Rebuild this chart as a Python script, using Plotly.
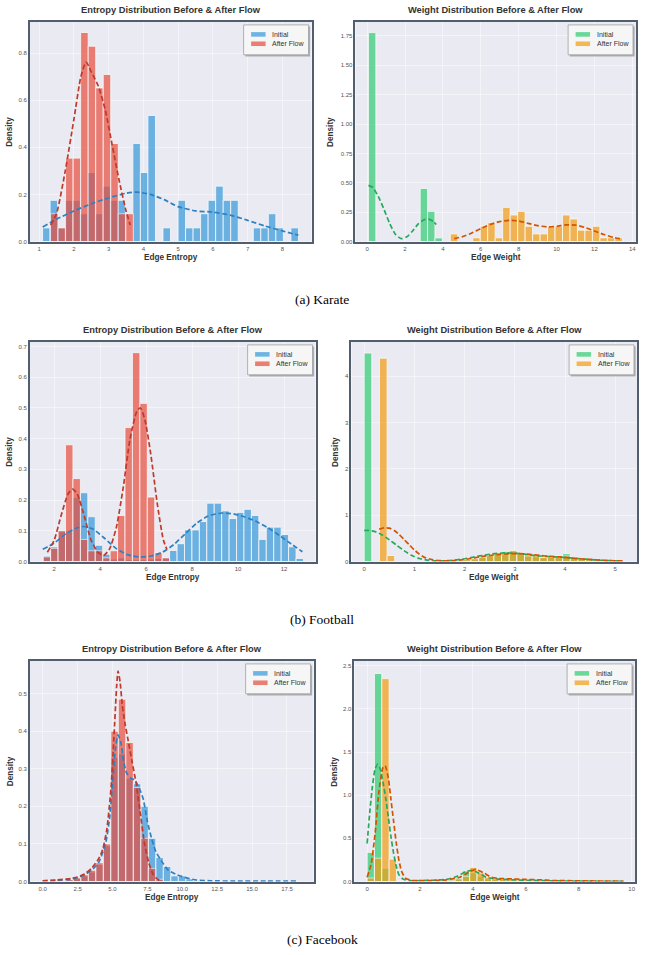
import plotly.graph_objects as go

W, H = 645, 955

# ---------------- data ----------------
# (a) Karate - edge entropy histograms (density)
kar_ent_init_start, kar_ent_init_bw = 1.096, 0.2167
kar_ent_init_h = [0.058, 0.175, 0.058, 0.175, 0.175, 0.118, 0.293, 0.118, 0.235, 0.175,
                  0.175, 0.0, 0.416, 0.293, 0.535, 0.0, 0.058, 0.0, 0.175, 0.058,
                  0.058, 0.118, 0.175, 0.235, 0.175, 0.175, 0.0, 0.0, 0.058, 0.058,
                  0.118, 0.058, 0.0, 0.058]
kar_ent_flow_start, kar_ent_flow_bw = 1.326, 0.2167
kar_ent_flow_h = [0.118, 0.058, 0.354, 0.354, 0.887, 0.829, 0.652, 0.709, 0.416, 0.118, 0.118]
kar_ent_init_kde_x = [1.10, 1.5, 2.0, 2.5, 3.0, 3.5, 3.8, 4.2, 4.6, 5.0, 5.5, 6.0, 6.5, 7.0, 7.5, 8.0, 8.46]
kar_ent_init_kde_y = [0.062, 0.095, 0.13, 0.16, 0.185, 0.205, 0.21, 0.20, 0.178, 0.148, 0.13, 0.125, 0.112, 0.09, 0.066, 0.045, 0.027]
kar_ent_flow_kde_x = [1.33, 1.5, 1.75, 2.0, 2.2, 2.35, 2.5, 2.7, 2.9, 3.1, 3.3, 3.5, 3.62]
kar_ent_flow_kde_y = [0.07, 0.12, 0.30, 0.52, 0.70, 0.762, 0.72, 0.66, 0.56, 0.41, 0.26, 0.13, 0.07]

# (a) Karate - edge weight
kar_w_init_start, kar_w_init_bw = 0.07, 0.39
kar_w_init_h = [1.778, 0, 0, 0, 0, 0, 0, 0.452, 0.257, 0.031]
kar_w_flow_start, kar_w_flow_bw = 4.39, 0.395
kar_w_flow_h = [0.065, 0, 0, 0.032, 0.13, 0.161, 0.032, 0.291, 0.226, 0.257, 0.13, 0.065,
                0.065, 0.13, 0.13, 0.226, 0.192, 0.097, 0.097, 0.13, 0.032, 0.032, 0.032]
kar_w_init_kde_x = [0.07, 0.3, 0.6, 0.9, 1.2, 1.5, 1.8, 2.1, 2.4, 2.7, 3.0, 3.25, 3.5, 3.65]
kar_w_init_kde_y = [0.478, 0.46, 0.38, 0.27, 0.15, 0.06, 0.025, 0.04, 0.09, 0.15, 0.185, 0.19, 0.17, 0.145]
kar_w_flow_kde_x = [4.6, 5.0, 5.5, 6.0, 6.5, 7.0, 7.5, 8.0, 8.5, 9.0, 9.5, 10.0, 10.5, 11.0, 11.5, 12.0, 12.5, 13.0, 13.45]
kar_w_flow_kde_y = [0.025, 0.04, 0.07, 0.11, 0.145, 0.17, 0.18, 0.175, 0.155, 0.135, 0.125, 0.13, 0.142, 0.14, 0.12, 0.09, 0.06, 0.035, 0.022]

# (b) Football - edge entropy
fb_ent_init_start, fb_ent_init_bw = 1.52, 0.3236
fb_ent_init_h = [0.018, 0.048, 0.10, 0.10, 0.209, 0.224, 0.146, 0.053, 0.024, 0.008,
                 0.012, 0.006, 0.006, 0.006, 0.008, 0.01, 0.012, 0.036, 0.058, 0.103,
                 0.103, 0.13, 0.19, 0.19, 0.165, 0.14, 0.16, 0.17, 0.15, 0.072,
                 0.112, 0.112, 0.088, 0.048, 0.01]
fb_ent_flow_start, fb_ent_flow_bw = 1.52, 0.3236
fb_ent_flow_h = [0.015, 0.043, 0.10, 0.38, 0.27, 0.072, 0.035, 0.035, 0.012, 0.035,
                 0.15, 0.436, 0.68, 0.515, 0.21, 0.028, 0.012]
fb_ent_init_kde_x = [1.5, 2.0, 2.5, 3.0, 3.3, 3.7, 4.2, 4.7, 5.2, 5.7, 6.2, 6.7, 7.2, 7.7, 8.2, 8.7, 9.3, 9.8, 10.3, 10.8, 11.3, 11.8, 12.3, 12.8]
fb_ent_init_kde_y = [0.04, 0.06, 0.09, 0.11, 0.114, 0.105, 0.075, 0.042, 0.022, 0.015, 0.018, 0.03, 0.055, 0.09, 0.125, 0.148, 0.158, 0.155, 0.145, 0.13, 0.11, 0.085, 0.058, 0.032]
fb_ent_flow_kde_x = [1.7, 2.0, 2.3, 2.6, 2.8, 3.0, 3.3, 3.6, 3.9, 4.15, 4.4, 4.7, 5.0, 5.3, 5.6, 5.75, 5.95, 6.2, 6.5, 6.75, 6.9]
fb_ent_flow_kde_y = [0.03, 0.07, 0.15, 0.22, 0.236, 0.22, 0.15, 0.07, 0.03, 0.02, 0.04, 0.11, 0.24, 0.40, 0.49, 0.50, 0.46, 0.35, 0.18, 0.07, 0.04]

# (b) Football - edge weight
fb_w_init_start, fb_w_init_bw = 0.0, 0.152
fb_w_init_h = [4.5, 0.02, 0, 0, 0, 0, 0, 0, 0, 0, 0, 0.01, 0.02, 0.04, 0.06, 0.1, 0.12,
               0.19, 0.22, 0.22, 0.17, 0.15, 0.1, 0.08, 0.1, 0.08, 0.17, 0.08, 0.06, 0.04,
               0.03, 0.02, 0.02, 0.01]
fb_w_flow_start, fb_w_flow_bw = 0.305, 0.152
fb_w_flow_h = [4.39, 0.13, 0, 0, 0, 0, 0, 0, 0.01, 0.01, 0.02, 0.04, 0.06, 0.09, 0.13,
               0.17, 0.17, 0.24, 0.19, 0.12, 0.13, 0.09, 0.09, 0.12, 0.12, 0.08, 0.06,
               0.04, 0.03, 0.02, 0.015, 0.01]
fb_w_init_kde_x = [0.0, 0.1, 0.2, 0.35, 0.5, 0.65, 0.8, 0.95, 1.1, 1.25, 1.4, 1.6, 1.8, 2.0, 2.2, 2.4, 2.6, 2.8, 3.0, 3.2, 3.4, 3.6, 3.8, 4.0, 4.2, 4.4, 4.6, 4.8, 5.0, 5.1]
fb_w_init_kde_y = [0.67, 0.67, 0.65, 0.58, 0.47, 0.35, 0.23, 0.13, 0.065, 0.03, 0.015, 0.015, 0.03, 0.06, 0.10, 0.14, 0.17, 0.185, 0.18, 0.16, 0.13, 0.11, 0.10, 0.09, 0.07, 0.05, 0.035, 0.022, 0.015, 0.012]
fb_w_flow_kde_x = [0.3, 0.4, 0.5, 0.6, 0.7, 0.8, 0.9, 1.0, 1.1, 1.2, 1.35, 1.5, 1.7, 1.9, 2.1, 2.3, 2.5, 2.7, 2.9, 3.1, 3.3, 3.5, 3.7, 3.9, 4.1, 4.3, 4.5, 4.7, 4.9, 5.17]
fb_w_flow_kde_y = [0.70, 0.73, 0.72, 0.67, 0.58, 0.47, 0.36, 0.25, 0.16, 0.09, 0.04, 0.02, 0.015, 0.03, 0.06, 0.10, 0.13, 0.155, 0.17, 0.17, 0.155, 0.13, 0.11, 0.10, 0.08, 0.06, 0.045, 0.03, 0.02, 0.012]

# (c) Facebook - edge entropy
fc_ent_init_start, fc_ent_init_bw = 0.05, 0.537
fc_ent_init_h = [0.001, 0.001, 0.002, 0.004, 0.008, 0.015, 0.025, 0.045, 0.095, 0.33,
                 0.34, 0.275, 0.26, 0.2, 0.115, 0.064, 0.04, 0.015, 0.015, 0.007,
                 0.003, 0.001, 0.001, 0.001, 0.001, 0.001, 0.001, 0.001, 0.001, 0.001,
                 0.001, 0.001, 0.001, 0.001]
fc_ent_flow_start, fc_ent_flow_bw = 0.05, 0.537
fc_ent_flow_h = [0.001, 0.002, 0.003, 0.005, 0.01, 0.018, 0.03, 0.05, 0.1, 0.40, 0.485,
                 0.37, 0.25, 0.115, 0.035, 0.006]
fc_ent_init_kde_x = [0.0, 1.0, 2.0, 2.5, 3.0, 3.5, 4.0, 4.5, 4.8, 5.0, 5.2, 5.4, 5.6, 5.8, 6.0, 6.3, 6.6, 6.9, 7.2, 7.5, 7.8, 8.1, 8.5, 9.0, 9.5, 10.0, 10.5, 11.0, 12.0, 14.0, 16.0, 18.2]
fc_ent_init_kde_y = [0.002, 0.003, 0.006, 0.01, 0.018, 0.03, 0.05, 0.10, 0.17, 0.26, 0.35, 0.39, 0.37, 0.32, 0.29, 0.275, 0.27, 0.25, 0.22, 0.16, 0.115, 0.08, 0.055, 0.03, 0.02, 0.013, 0.008, 0.004, 0.002, 0.001, 0.001, 0.001]
fc_ent_flow_kde_x = [0.0, 1.0, 2.0, 2.5, 3.0, 3.5, 4.0, 4.3, 4.6, 4.9, 5.1, 5.3, 5.4, 5.55, 5.7, 5.9, 6.1, 6.4, 6.7, 7.0, 7.3, 7.6, 7.9, 8.2, 8.4]
fc_ent_flow_kde_y = [0.002, 0.004, 0.008, 0.012, 0.02, 0.035, 0.06, 0.085, 0.14, 0.25, 0.38, 0.52, 0.56, 0.53, 0.47, 0.42, 0.38, 0.32, 0.26, 0.18, 0.10, 0.05, 0.02, 0.007, 0.003]

# (c) Facebook - edge weight
fc_w_init_start, fc_w_init_bw = 0.0, 0.277
fc_w_init_h = [0.338, 2.41, 0.154, 0.01, 0.005, 0.005, 0.005, 0.005, 0.01, 0.01, 0.015,
               0.02, 0.04, 0.123, 0.1, 0.06, 0.03, 0.025, 0.02, 0.015, 0.012, 0.01, 0.008,
               0.006, 0.005, 0.004, 0.003, 0.003, 0.002, 0.002, 0.002, 0.001, 0.001, 0.001, 0.001]
fc_w_flow_start, fc_w_flow_bw = 0.0, 0.277
fc_w_flow_h = [0.04, 0.27, 2.35, 0.26, 0.01, 0.005, 0.005, 0.005, 0.008, 0.01, 0.012,
               0.015, 0.03, 0.06, 0.165, 0.1, 0.05, 0.035, 0.03, 0.025, 0.02, 0.02, 0.015,
               0.01, 0.008, 0.006, 0.005, 0.004, 0.003, 0.003, 0.002, 0.002, 0.001, 0.001, 0.001]
fc_w_init_kde_x = [0.0, 0.1, 0.2, 0.3, 0.4, 0.5, 0.6, 0.7, 0.8, 0.9, 1.0, 1.1, 1.2, 1.35, 1.6, 2.0, 2.5, 3.0, 3.4, 3.7, 3.95, 4.2, 4.5, 4.9, 5.5, 6.0, 7.0, 8.0, 9.0, 9.7]
fc_w_init_kde_y = [0.44, 0.80, 1.10, 1.30, 1.36, 1.30, 1.15, 0.97, 0.75, 0.52, 0.33, 0.18, 0.08, 0.03, 0.01, 0.01, 0.015, 0.025, 0.06, 0.11, 0.13, 0.10, 0.05, 0.03, 0.02, 0.015, 0.008, 0.005, 0.003, 0.002]
fc_w_flow_kde_x = [0.0, 0.15, 0.3, 0.45, 0.6, 0.68, 0.8, 0.9, 1.0, 1.1, 1.2, 1.3, 1.45, 1.7, 2.0, 2.5, 3.0, 3.5, 3.8, 4.1, 4.4, 4.7, 5.0, 5.5, 6.0, 6.5, 7.0, 8.0, 9.0, 9.7]
fc_w_flow_kde_y = [0.05, 0.20, 0.55, 1.05, 1.32, 1.34, 1.20, 0.95, 0.70, 0.45, 0.25, 0.12, 0.04, 0.012, 0.01, 0.012, 0.02, 0.05, 0.10, 0.14, 0.10, 0.05, 0.035, 0.03, 0.025, 0.02, 0.012, 0.008, 0.005, 0.003]

series_names = ["Initial", "After Flow"]
entropy_title = "Entropy Distribution Before & After Flow"
weight_title = "Weight Distribution Before & After Flow"
captions = ["(a) Karate", "(b) Football", "(c) Facebook"]

# ---------------- styling ----------------
BLUE, RED, GREEN, ORANGE = "#3498db", "#e74c3c", "#2ecc71", "#f39c12"
BLUE_L, RED_L, GREEN_L, ORANGE_L = "#2e80c0", "#c0392b", "#27a85c", "#d35400"
BG = "#eaeaf2"
FRAME = "#525d6e"
SANS = "Liberation Sans, Arial, sans-serif"
SERIF = "Liberation Serif, Times New Roman, serif"

# panel pixel boxes: (left, top, right, bottom)
boxes = [(30, 22, 312, 242.3), (356, 22, 637, 242.3),
         (30, 343, 316, 563.3), (352, 343, 638, 563.3),
         (30, 663, 314, 884.3), (355, 663, 636, 884.3)]

panels = [
    dict(title=entropy_title, xlabel="Edge Entropy", xr=[0.733, 8.84], yr=[0, 0.932],
         xt=dict(tick0=1, dtick=1), yt=dict(tick0=0, dtick=0.2, tickformat=".1f"),
         hists=[(kar_ent_init_start, kar_ent_init_bw, kar_ent_init_h, BLUE),
                (kar_ent_flow_start, kar_ent_flow_bw, kar_ent_flow_h, RED)],
         kdes=[(kar_ent_init_kde_x, kar_ent_init_kde_y, BLUE_L),
               (kar_ent_flow_kde_x, kar_ent_flow_kde_y, RED_L)],
         ylab_x=10, colors=(BLUE, RED)),
    dict(title=weight_title, xlabel="Edge Weight", xr=[-0.617, 14.196], yr=[0, 1.869],
         xt=dict(tick0=0, dtick=2), yt=dict(tick0=0, dtick=0.25, tickformat=".2f"),
         hists=[(kar_w_init_start, kar_w_init_bw, kar_w_init_h, GREEN),
                (kar_w_flow_start, kar_w_flow_bw, kar_w_flow_h, ORANGE)],
         kdes=[(kar_w_init_kde_x, kar_w_init_kde_y, GREEN_L),
               (kar_w_flow_kde_x, kar_w_flow_kde_y, ORANGE_L)],
         ylab_x=331.7, colors=(GREEN, ORANGE)),
    dict(title=entropy_title, xlabel="Edge Entropy", xr=[0.943, 13.37], yr=[0, 0.715],
         xt=dict(tick0=2, dtick=2), yt=dict(tick0=0, dtick=0.1, tickformat=".1f"),
         hists=[(fb_ent_init_start, fb_ent_init_bw, fb_ent_init_h, BLUE),
                (fb_ent_flow_start, fb_ent_flow_bw, fb_ent_flow_h, RED)],
         kdes=[(fb_ent_init_kde_x, fb_ent_init_kde_y, BLUE_L),
               (fb_ent_flow_kde_x, fb_ent_flow_kde_y, RED_L)],
         ylab_x=10, colors=(BLUE, RED)),
    dict(title=weight_title, xlabel="Edge Weight", xr=[-0.2525, 5.433], yr=[0, 4.74],
         xt=dict(tick0=0, dtick=1), yt=dict(tick0=0, dtick=1),
         hists=[(fb_w_init_start, fb_w_init_bw, fb_w_init_h, GREEN),
                (fb_w_flow_start, fb_w_flow_bw, fb_w_flow_h, ORANGE)],
         kdes=[(fb_w_init_kde_x, fb_w_init_kde_y, GREEN_L),
               (fb_w_flow_kde_x, fb_w_flow_kde_y, ORANGE_L)],
         ylab_x=336.7, colors=(GREEN, ORANGE)),
    dict(title=entropy_title, xlabel="Edge Entropy", xr=[-0.91, 19.4], yr=[0, 0.587],
         xt=dict(tick0=0, dtick=2.5, tickformat=".1f"), yt=dict(tick0=0, dtick=0.1, tickformat=".1f"),
         hists=[(fc_ent_init_start, fc_ent_init_bw, fc_ent_init_h, BLUE),
                (fc_ent_flow_start, fc_ent_flow_bw, fc_ent_flow_h, RED)],
         kdes=[(fc_ent_init_kde_x, fc_ent_init_kde_y, BLUE_L),
               (fc_ent_flow_kde_x, fc_ent_flow_kde_y, RED_L)],
         ylab_x=10, colors=(BLUE, RED)),
    dict(title=weight_title, xlabel="Edge Weight", xr=[-0.479, 10.125], yr=[0, 2.555],
         xt=dict(tick0=0, dtick=2), yt=dict(tick0=0, dtick=0.5, tickformat=".1f"),
         hists=[(fc_w_init_start, fc_w_init_bw, fc_w_init_h, GREEN),
                (fc_w_flow_start, fc_w_flow_bw, fc_w_flow_h, ORANGE)],
         kdes=[(fc_w_init_kde_x, fc_w_init_kde_y, GREEN_L),
               (fc_w_flow_kde_x, fc_w_flow_kde_y, ORANGE_L)],
         ylab_x=335, colors=(GREEN, ORANGE)),
]


def fx(px):
    return px / W


def fy(py):
    return 1 - py / H


fig = go.Figure()
layout = dict(width=W, height=H, margin=dict(l=0, r=0, t=0, b=0),
              paper_bgcolor="white", plot_bgcolor=BG, barmode="overlay",
              showlegend=False, font=dict(family=SANS, color="#333"))
shapes, annotations = [], []

for i, (p, box) in enumerate(zip(panels, boxes)):
    n = i + 1
    xa, ya = ("x" if n == 1 else f"x{n}"), ("y" if n == 1 else f"y{n}")
    l, t, r, b = box
    common = dict(showgrid=True, gridcolor="rgba(255,255,255,0.45)", gridwidth=0.8,
                  zeroline=False, showline=True, linecolor=FRAME, linewidth=1.6,
                  mirror=True, ticks="", ticklen=0,
                  tickfont=dict(size=6, color="#555", family=SANS))
    layout["xaxis" if n == 1 else f"xaxis{n}"] = dict(
        domain=[fx(l), fx(r)], range=p["xr"], anchor=ya, tickmode="linear", **p["xt"], **common)
    layout["yaxis" if n == 1 else f"yaxis{n}"] = dict(
        domain=[fy(b), fy(t)], range=p["yr"], anchor=xa, tickmode="linear", **p["yt"], **common)

    for k, (start, bw, hs, col) in enumerate(p["hists"]):
        xs = [start + bw * (j + 0.5) for j, h in enumerate(hs) if h > 0]
        ys = [h for h in hs if h > 0]
        fig.add_trace(go.Bar(x=xs, y=ys, width=bw, name=series_names[k], opacity=0.7,
                             marker=dict(color=col, line=dict(color="white", width=0.8)),
                             xaxis=xa, yaxis=ya))
    for k, (kx, ky, col) in enumerate(p["kdes"]):
        fig.add_trace(go.Scatter(x=kx, y=ky, mode="lines", name=series_names[k] + " KDE",
                                 line=dict(color=col, width=1.7, dash="5px,2.6px",
                                           shape="spline", smoothing=0.6),
                                 xaxis=xa, yaxis=ya, hoverinfo="skip"))

    cx = (l + r) / 2
    # subplot title
    annotations.append(dict(text=f"<b>{p['title']}</b>", x=fx(cx), y=fy(t - 12), xref="paper",
                            yref="paper", showarrow=False, xanchor="center", yanchor="middle",
                            font=dict(size=9.3, color="#333", family=SANS)))
    annotations.append(dict(text=f"<b>{p['xlabel']}</b>", x=fx(cx), y=fy(b + 16.5), xref="paper",
                            yref="paper", showarrow=False, xanchor="center", yanchor="middle",
                            font=dict(size=8.2, color="#333", family=SANS)))
    annotations.append(dict(text="<b>Density</b>", x=fx(p["ylab_x"]), y=fy((t + b) / 2),
                            xref="paper", yref="paper", showarrow=False, textangle=-90,
                            xanchor="center", yanchor="middle",
                            font=dict(size=8.2, color="#333", family=SANS)))

    # legend box (drawn manually, matplotlib style with shadow)
    br, bt = r - 3, t + 3
    bl, bb = br - 65, bt + 30
    shapes.append(dict(type="rect", xref="paper", yref="paper", layer="above",
                       x0=fx(bl + 1.6), x1=fx(br + 1.6), y0=fy(bb + 1.6), y1=fy(bt + 1.6),
                       fillcolor="rgba(60,60,60,0.35)", line=dict(width=0)))
    shapes.append(dict(type="rect", xref="paper", yref="paper", layer="above",
                       x0=fx(bl), x1=fx(br), y0=fy(bb), y1=fy(bt),
                       fillcolor="#f6f6f6", line=dict(color="#a0a0a0", width=0.8)))
    for k, col in enumerate(p["colors"]):
        yc = bt + 9.5 + 9.4 * k
        shapes.append(dict(type="rect", xref="paper", yref="paper", layer="above",
                           x0=fx(bl + 7.5), x1=fx(bl + 22), y0=fy(yc + 2.3), y1=fy(yc - 2.3),
                           fillcolor=col, opacity=0.7, line=dict(width=0)))
        annotations.append(dict(text=series_names[k], x=fx(bl + 26.5), y=fy(yc), xref="paper",
                                yref="paper", showarrow=False, xanchor="left", yanchor="middle",
                                font=dict(size=7, color="#333", family=SANS)))

for cap, cy in zip(captions, [300, 621, 942]):
    annotations.append(dict(text=cap, x=fx(322.5), y=fy(cy), xref="paper", yref="paper",
                            showarrow=False, xanchor="center", yanchor="middle",
                            font=dict(size=13.5, color="black", family=SERIF)))

layout["shapes"] = shapes
layout["annotations"] = annotations
fig.update_layout(**layout)
fig.write_html("out.html")
